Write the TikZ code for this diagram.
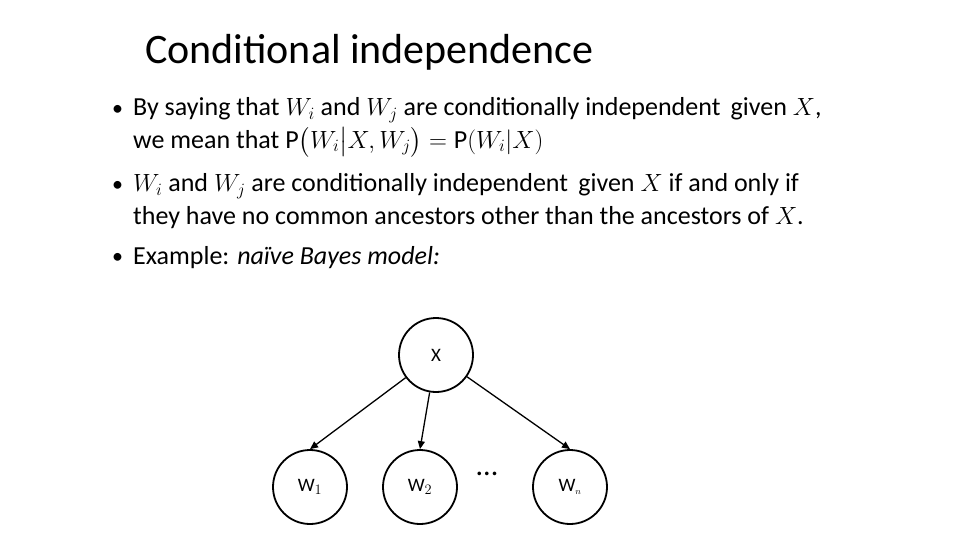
\documentclass[tikz,border=0pt]{standalone}
\usepackage{fontspec}
\usepackage{amsmath}
\setmainfont{Carlito}
\usetikzlibrary{arrows.meta}
\begin{document}
\begin{tikzpicture}[x=1pt,y=-1pt,
  bnode/.style={draw,line width=1.8pt,circle,minimum size=74pt,inner sep=0pt,font=\fontsize{19}{22}\selectfont},
  edge/.style={line width=1.3pt,-{Triangle[length=8pt,width=7pt]}},
  txt/.style={anchor=west,inner sep=0pt,font=\fontsize{26}{30}\selectfont}]
\useasboundingbox (0,0) rectangle (960,540);
\node[anchor=west,inner sep=0pt,font=\fontsize{42}{46}\selectfont] (title) at (145,52) {Conditional independence};
\node[txt,font=\fontsize{22}{26}\selectfont] (b1) at (112,110) {•};
\node[txt] (l1) at (133,110) {By saying that $W_i$ and $W_j$ are conditionally independent \,given $X$,};
\node[txt] (l2) at (133,142) {we mean that $\mathrm{P}\bigl(W_i\big|X,W_j\bigr)=\mathrm{P}(W_i|X)$};
\node[txt,font=\fontsize{22}{26}\selectfont] (b2) at (112,186) {•};
\node[txt] (l3) at (133,186) {$W_i$ and $W_j$ are conditionally independent \,given $X$ if and only if};
\node[txt] (l4) at (133,218) {they have no common ancestors other than the ancestors of $X$.};
\node[txt,font=\fontsize{22}{26}\selectfont] (b3) at (112,258) {•};
\node[txt] (l5) at (133,258) {Example: \textit{naïve Bayes model:}};
\node[bnode] (x) at (436,355) {X};
\node[bnode] (w1) at (310,487) {W$_{1}$};
\node[bnode] (w2) at (420,487) {W$_{2}$};
\node[bnode] (wn) at (570,487) {W$_{\scriptscriptstyle n}$};
\node[font=\fontsize{30}{32}\selectfont] (dots) at (487,474) {...};
\draw[edge] (x) -- (w1.north);
\draw[edge] (x) -- (w2.north);
\draw[edge] (x) -- (wn.north);
\end{tikzpicture}
\end{document}
